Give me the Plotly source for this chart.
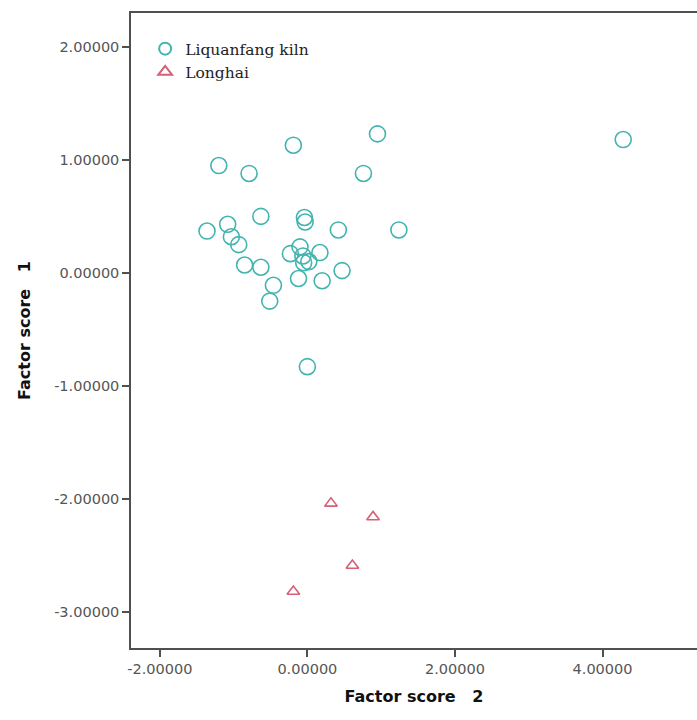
import plotly.graph_objects as go

# Liquanfang kiln (circles): Factor score 2 (x), Factor score 1 (y)
liq_x = [4.28, 0.95, -0.19, -1.20, -0.79, 0.76, -0.63, -0.04, -0.03, -1.08, -1.36,
         -1.03, -0.93, 0.42, 1.24, -0.10, -0.23, 0.17, -0.06, 0.02, -0.05, -0.85,
         -0.63, -0.12, 0.20, 0.47, -0.46, -0.51, 0.00]
liq_y = [1.18, 1.23, 1.13, 0.95, 0.88, 0.88, 0.50, 0.49, 0.45, 0.43, 0.37,
         0.32, 0.25, 0.38, 0.38, 0.23, 0.17, 0.18, 0.15, 0.10, 0.09, 0.07,
         0.05, -0.05, -0.07, 0.02, -0.11, -0.25, -0.83]

# Longhai (triangles)
lh_x = [0.32, 0.89, 0.61, -0.19]
lh_y = [-2.04, -2.16, -2.59, -2.82]

x_ticks = [-2, 0, 2, 4]
x_ticktext = ["-2.00000", "0.00000", "2.00000", "4.00000"]
y_ticks = [2, 1, 0, -1, -2, -3]
y_ticktext = ["2.00000", "1.00000", "0.00000", "-1.00000", "-2.00000", "-3.00000"]

teal = "rgb(66,180,175)"
pink = "rgb(214,96,118)"

fig = go.Figure()
fig.add_trace(go.Scatter(
    x=liq_x, y=liq_y, mode="markers", name="Liquanfang kiln",
    marker=dict(symbol="circle-open", size=16, color=teal, line=dict(width=1.6, color=teal)),
))
fig.add_trace(go.Scatter(
    x=lh_x, y=lh_y, mode="markers", name="Longhai",
    marker=dict(symbol="triangle-up-open", size=11, color=pink, line=dict(width=1.6, color=pink)),
))

axis_col = "#505050"
tickfont = dict(family="DejaVu Sans", size=14.5, color="#555")
titlefont = dict(family="DejaVu Sans", size=16, color="#111", weight="bold")
fig.update_layout(
    width=697, height=720,
    margin=dict(l=131, r=0, t=13, b=72),
    paper_bgcolor="white", plot_bgcolor="white",
    showlegend=True,
    legend=dict(
        x=0.025, y=0.97, xanchor="left", yanchor="top",
        font=dict(family="DejaVu Serif", size=15.5, color="#222"),
        bgcolor="rgba(0,0,0,0)", itemsizing="constant", tracegroupgap=0,
    ),
    xaxis=dict(
        range=[-2.39, 5.28], tickvals=x_ticks, ticktext=x_ticktext,
        showgrid=False, zeroline=False, showline=True, linecolor=axis_col, linewidth=1.5,
        mirror=True, ticks="outside", ticklen=7, tickcolor=axis_col, tickwidth=1.5,
        tickfont=tickfont,
        title=dict(text="Factor score\u00a0\u00a0\u00a02", font=titlefont, standoff=15),
    ),
    yaxis=dict(
        range=[-3.32, 2.30], tickvals=y_ticks, ticktext=y_ticktext,
        showgrid=False, zeroline=False, showline=True, linecolor=axis_col, linewidth=1.5,
        mirror=False, ticks="outside", ticklen=7, tickcolor=axis_col, tickwidth=1.5,
        tickfont=tickfont,
        title=dict(text="Factor score\u00a0\u00a0\u00a01", font=titlefont, standoff=20),
    ),
)
fig.write_html("out.html")
